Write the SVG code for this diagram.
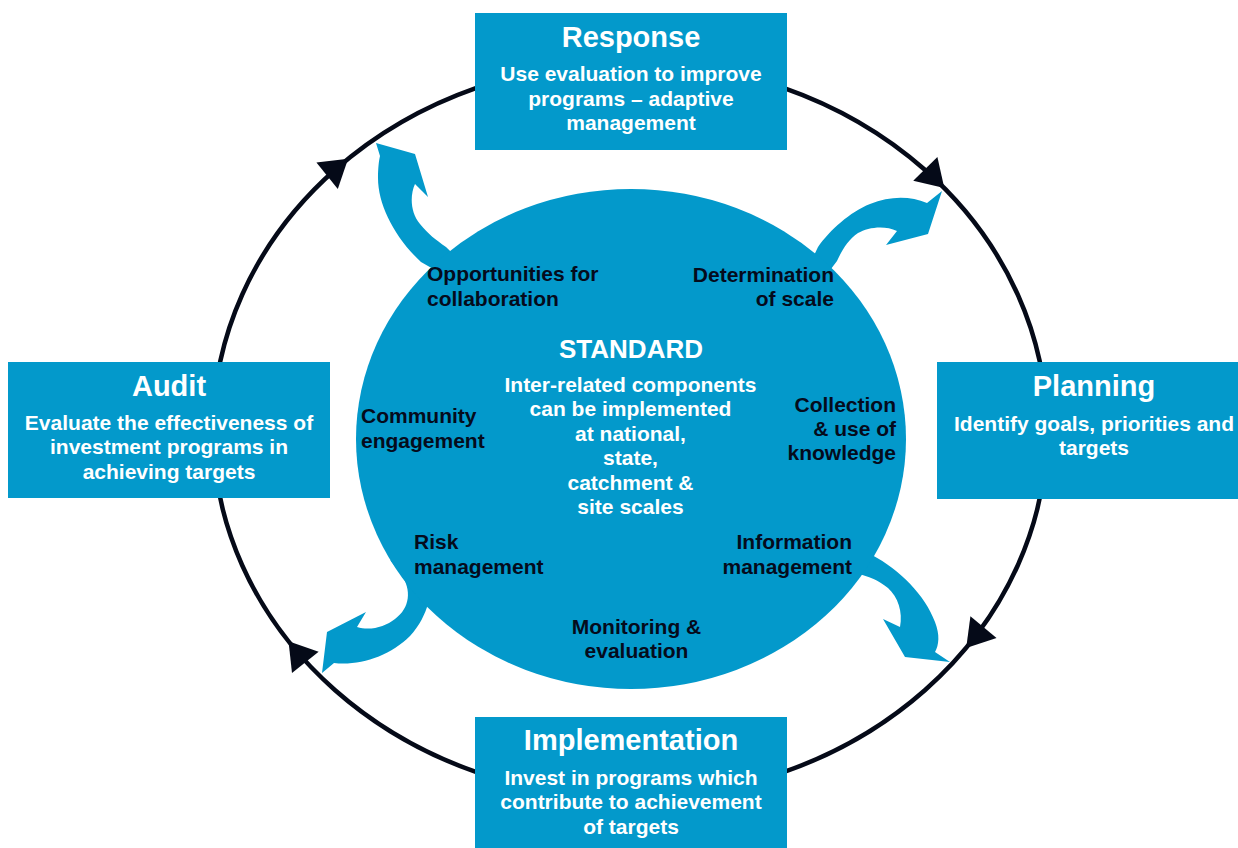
<svg xmlns="http://www.w3.org/2000/svg" width="1238" height="848" viewBox="0 0 1238 848">
<style>
.box{fill:#0399CB}
.blue{fill:#0399CB}
.ttl{font-family:"Liberation Sans",Arial,sans-serif;font-weight:bold;font-size:29px;fill:#ffffff;text-anchor:middle}
.sub{font-family:"Liberation Sans",Arial,sans-serif;font-weight:bold;font-size:21px;fill:#ffffff;text-anchor:middle}
.lbl{font-family:"Liberation Sans",Arial,sans-serif;font-weight:bold;font-size:21px;fill:#050B1C}
.std{font-family:"Liberation Sans",Arial,sans-serif;font-weight:bold;font-size:26px;fill:#ffffff;text-anchor:middle}
.ring{fill:none;stroke:#050A18;stroke-width:4.5}
.ah{fill:#050A18}
</style>
<defs>
<polygon id="head" points="0,0 -27,-17 -27,17"/>
</defs>
<g id="connectors">
<ellipse class="ring" cx="630" cy="430" rx="417" ry="368"/>
<use href="#head" class="ah" transform="translate(944.3,188.1) rotate(45.3)"/>
<use href="#head" class="ah" transform="translate(966.2,647.9) rotate(129.8)"/>
<use href="#head" class="ah" transform="translate(288.5,641.2) rotate(-128.5)"/>
<use href="#head" class="ah" transform="translate(348.1,158.7) rotate(-39)"/>
<path class="blue" d="M470,290 L421,262 C395,238 378,205 378,178 C378,168 379,160 380,156 L376,143 L415,154 L428,197 L415,184 C410,195 410,212 420,224 C428,234 436,240 446,247 L480,280 Z"/>
<path class="blue" d="M800,285 L818,247 C830,230 850,212 870,204 C890,196 910,196 927,203 L942,191 L928,234 L886,245 L897,231 C885,225 868,227 858,233 C848,240 842,250 837,261 L815,290 Z"/>
<path class="blue" d="M390,560 L401,574 C412,590 410,608 395,619 C385,627 370,631 357,627 L366,612 L327,632 L322,673 L334,663 C360,666 390,656 410,636 C420,625 425,614 428,604 L430,580 Z"/>
<path class="blue" d="M850,540 L872,555 C900,570 925,595 935,622 C940,635 939,645 935,652 L950,662 L905,657 L883,619 L900,627 C903,612 898,597 888,588 C878,580 868,576 858,574 Z"/>
</g>
<g id="standard">
<ellipse class="blue" cx="631" cy="439" rx="275" ry="250"/>
<text class="std" x="631" y="358">STANDARD</text>
<text class="sub" x="630.5" y="391.5">Inter-related components</text>
<text class="sub" x="630.5" y="416">can be implemented</text>
<text class="sub" x="630.5" y="440.5">at national,</text>
<text class="sub" x="630.5" y="465">state,</text>
<text class="sub" x="630.5" y="489.5">catchment &amp;</text>
<text class="sub" x="630.5" y="514">site scales</text>
</g>
<g id="opportunities">
<text class="lbl" x="427" y="281">Opportunities for</text>
<text class="lbl" x="427" y="305.5">collaboration</text>
</g>
<g id="determination">
<text class="lbl" x="834" y="281.5" text-anchor="end">Determination</text>
<text class="lbl" x="834" y="306" text-anchor="end">of scale</text>
</g>
<g id="community">
<text class="lbl" x="361" y="423">Community</text>
<text class="lbl" x="361" y="447.5">engagement</text>
</g>
<g id="collection">
<text class="lbl" x="896" y="411.5" text-anchor="end">Collection</text>
<text class="lbl" x="896" y="436" text-anchor="end">&amp; use of</text>
<text class="lbl" x="896" y="460" text-anchor="end">knowledge</text>
</g>
<g id="risk">
<text class="lbl" x="414" y="549">Risk</text>
<text class="lbl" x="414" y="573.5">management</text>
</g>
<g id="information">
<text class="lbl" x="852" y="549" text-anchor="end">Information</text>
<text class="lbl" x="852" y="573.5" text-anchor="end">management</text>
</g>
<g id="monitoring">
<text class="lbl" x="636.5" y="633.5" text-anchor="middle">Monitoring &amp;</text>
<text class="lbl" x="636.5" y="658" text-anchor="middle">evaluation</text>
</g>
<g id="response">
<rect class="box" x="475" y="13" width="312" height="137"/>
<text class="ttl" x="631" y="47">Response</text>
<text class="sub" x="631" y="81">Use evaluation to improve</text>
<text class="sub" x="631" y="105.5">programs – adaptive</text>
<text class="sub" x="631" y="130">management</text>
</g>
<g id="planning">
<rect class="box" x="937" y="362" width="314" height="137"/>
<text class="ttl" x="1094" y="396">Planning</text>
<text class="sub" x="1094" y="430.5">Identify goals, priorities and</text>
<text class="sub" x="1094" y="455">targets</text>
</g>
<g id="audit">
<rect class="box" x="8" y="362" width="322" height="136"/>
<text class="ttl" x="169" y="396">Audit</text>
<text class="sub" x="169" y="429.5">Evaluate the effectiveness of</text>
<text class="sub" x="169" y="454">investment programs in</text>
<text class="sub" x="169" y="478.5">achieving targets</text>
</g>
<g id="implementation">
<rect class="box" x="475" y="717" width="312" height="140"/>
<text class="ttl" x="631" y="750">Implementation</text>
<text class="sub" x="631" y="785">Invest in programs which</text>
<text class="sub" x="631" y="809">contribute to achievement</text>
<text class="sub" x="631" y="833.5">of targets</text>
</g>
</svg>
